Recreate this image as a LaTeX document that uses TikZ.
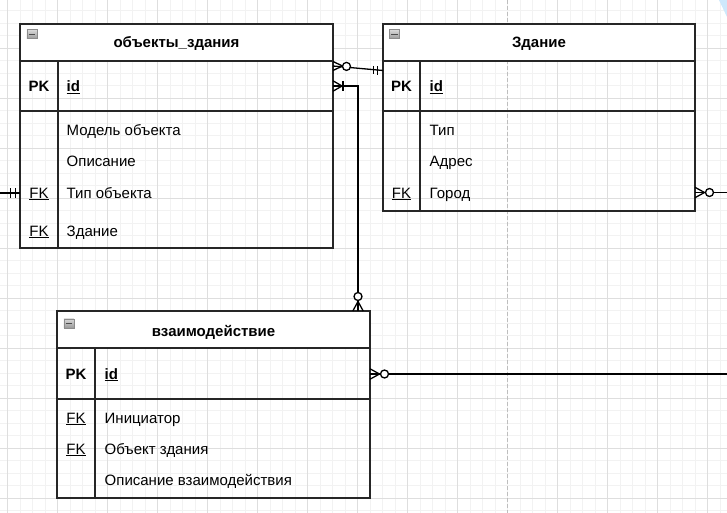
\documentclass[tikz,border=0pt]{standalone}
\usepackage{fontspec}
\setmainfont{Liberation Sans}
\usetikzlibrary{calc}
\definecolor{finegrid}{RGB}{242,242,242}
\definecolor{coarsegrid}{RGB}{222,222,222}
\definecolor{pbreak}{RGB}{190,190,190}
\definecolor{tri}{RGB}{206,232,251}
\tikzset{
  fine/.style={draw=finegrid, line width=0.9pt},
  coarse/.style={draw=coarsegrid, line width=0.9pt},
  pagebreak/.style={draw=pbreak, line width=0.9pt, dash pattern=on 4pt off 2pt},
  tbody/.style={draw=black!85, line width=1.5pt, inner sep=0pt, outer sep=0pt},
  thead/.style={tbody, fill=white},
  tline/.style={draw=black!85, line width=1.5pt},
  conn/.style={draw=black, line width=1.3pt},
  ring/.style={draw=black, fill=white, line width=1.3pt},
  ttl/.style={font=\fontsize{15}{18}\selectfont\bfseries, anchor=base, inner sep=0pt},
  fld/.style={font=\fontsize{15}{18}\selectfont, anchor=base west, inner sep=0pt},
  keyb/.style={font=\fontsize{15}{18}\selectfont\bfseries, anchor=base, inner sep=0pt},
  keyf/.style={font=\fontsize{15}{18}\selectfont, anchor=base, inner sep=0pt},
  mini/.style={draw=black!45, top color=black!15, bottom color=black!40, line width=0.6pt, minimum width=10pt, minimum height=9pt, inner sep=0pt, anchor=north west},
}
\newcommand{\minusicon}[2]{%
  \node[mini] (#2) at #1 {};
  \draw[black!70, line width=1.4pt] ($(#2.center)+(-3.2,0)$) -- ($(#2.center)+(3.2,0)$);}
\begin{document}
\begin{tikzpicture}[x=1pt,y=-1pt]
\useasboundingbox (0,0) rectangle (727,513);
% grid
\foreach \k in {-1,...,57} \draw[fine] ({7.5+12.5*\k},0) -- ({7.5+12.5*\k},513);
\foreach \k in {0,...,41} \draw[fine] (0,{-2+12.5*\k}) -- (727,{-2+12.5*\k});
\foreach \k in {0,...,9,11,12,13,14} \draw[coarse] ({7.5+50*\k},0) -- ({7.5+50*\k},513);
\foreach \k in {0,...,10} \draw[coarse] (0,{-2+50*\k}) -- (727,{-2+50*\k});
\draw[pagebreak] (507.5,0) -- (507.5,513);
\fill[tri] (719,0) -- (727,0) -- (727,17) -- cycle;

% ---------- table 1: объекты_здания ----------
\node[tbody, minimum width=313pt, minimum height=224pt, anchor=north west] (t1) at (20,24) {};
\node[thead, minimum width=313pt, minimum height=37pt, anchor=north west] (h1) at (20,24) {};
\draw[tline] (20,111) -- (333,111);
\draw[tline] (58,61) -- (58,248);
\minusicon{(26.5,29.5)}{m1}
\node[ttl] (t1title) at (176.5,48) {объекты\_здания};
\node[keyb] (t1pk) at (39,92) {PK};
\node[fld] (t1id) at (66.5,92) {\bfseries\underline{id}};
\node[fld] (t1r1) at (66.5,136) {Модель объекта};
\node[fld] (t1r2) at (66.5,167) {Описание};
\node[keyf] (t1fk1) at (39,198) {\underline{FK}};
\node[fld] (t1r3) at (66.5,198) {Тип объекта};
\node[keyf] (t1fk2) at (39,236) {\underline{FK}};
\node[fld] (t1r4) at (66.5,236) {Здание};

% ---------- table 2: Здание ----------
\node[tbody, minimum width=312pt, minimum height=187pt, anchor=north west] (t2) at (383,24) {};
\node[thead, minimum width=312pt, minimum height=37pt, anchor=north west] (h2) at (383,24) {};
\draw[tline] (383,111) -- (695,111);
\draw[tline] (420,61) -- (420,211);
\minusicon{(389,29.5)}{m2}
\node[ttl] (t2title) at (539,48) {Здание};
\node[keyb] (t2pk) at (401.5,92) {PK};
\node[fld] (t2id) at (429.5,92) {\bfseries\underline{id}};
\node[fld] (t2r1) at (429.5,136) {Тип};
\node[fld] (t2r2) at (429.5,167) {Адрес};
\node[keyf] (t2fk1) at (401.5,198) {\underline{FK}};
\node[fld] (t2r3) at (429.5,198) {Город};

% ---------- table 3: взаимодействие ----------
\node[tbody, minimum width=313pt, minimum height=187pt, anchor=north west] (t3) at (57,311) {};
\node[thead, minimum width=313pt, minimum height=37pt, anchor=north west] (h3) at (57,311) {};
\draw[tline] (57,399) -- (370,399);
\draw[tline] (95,348) -- (95,498);
\minusicon{(63.5,318.5)}{m3}
\node[ttl] (t3title) at (213.5,336) {взаимодействие};
\node[keyb] (t3pk) at (76,379) {PK};
\node[fld] (t3id) at (104.5,379) {\bfseries\underline{id}};
\node[keyf] (t3fk1) at (76,423) {\underline{FK}};
\node[fld] (t3r1) at (104.5,423) {Инициатор};
\node[keyf] (t3fk2) at (76,454) {\underline{FK}};
\node[fld] (t3r2) at (104.5,454) {Объект здания};
\node[fld] (t3r3) at (104.5,485) {Описание взаимодействия};

% ---------- connector end points ----------
\coordinate (a1) at ($(t1.north east)+(0,42)$);   % (333,66)
\coordinate (a2) at ($(t2.north west)+(0,46.5)$); % (383,70.5)
\coordinate (b1) at ($(t1.north east)+(0,62)$);   % (333,86)
\coordinate (b2) at ($(t3.north west)+(301,0)$);  % (358,311)
\coordinate (d1) at ($(t3.north east)+(0,63)$);   % (370,374)
\coordinate (d2) at (727,374);
\coordinate (e1) at ($(t2.north east)+(0,168.5)$); % (695,192.5)
\coordinate (e2) at (727,192.5);
\coordinate (f1) at (0,193);
\coordinate (f2) at ($(t1.north west)+(0,169)$);  % (20,193)

% connector A: объекты_здания (0..n) -- Здание (1)
\draw[conn] (a1) -- (a2);
\draw[conn] ($(a1)+(0,-4.5)$) -- ($(a1)+(9.5,0)$) -- ($(a1)+(0,4.5)$);
\draw[conn] (373.3,65.8) -- (373.3,74.4);
\draw[conn] (377.3,66.2) -- (377.3,74.8);
\node[ring, circle, minimum size=8pt, inner sep=0pt] (ra) at ($(a1)+(13.5,0.4)$) {};

% connector B: объекты_здания (1..n) -- взаимодействие (0..n)
\draw[conn] (b1) -| (b2);
\draw[conn] ($(b1)+(0,-5.2)$) -- ($(b1)+(9,0)$) -- ($(b1)+(0,5.2)$);
\draw[conn] ($(b1)+(10,-5.2)$) -- ($(b1)+(10,5.2)$);
\draw[conn] ($(b2)+(-5.2,0)$) -- ($(b2)+(0,-9.5)$) -- ($(b2)+(5.2,0)$);
\node[ring, circle, minimum size=8pt, inner sep=0pt] (rb) at ($(b2)+(0,-14.5)$) {};

% connector D: взаимодействие (0..n) -- off page
\draw[conn] (d1) -- (d2);
\draw[conn] ($(d1)+(0,-5.2)$) -- ($(d1)+(9.5,0)$) -- ($(d1)+(0,5.2)$);
\node[ring, circle, minimum size=8pt, inner sep=0pt] (rd) at ($(d1)+(14.5,0)$) {};

% connector E: Здание (0..n) -- off page
\draw[conn] (e1) -- (e2);
\draw[conn] ($(e1)+(0,-5.2)$) -- ($(e1)+(9.5,0)$) -- ($(e1)+(0,5.2)$);
\node[ring, circle, minimum size=8pt, inner sep=0pt] (re) at ($(e1)+(14.5,0)$) {};

% connector F: off page (1) -- объекты_здания
\draw[conn] (f1) -- (f2);
\draw[conn] (10.5,188) -- (10.5,198);
\draw[conn] (15.2,188) -- (15.2,198);
\end{tikzpicture}
\end{document}
